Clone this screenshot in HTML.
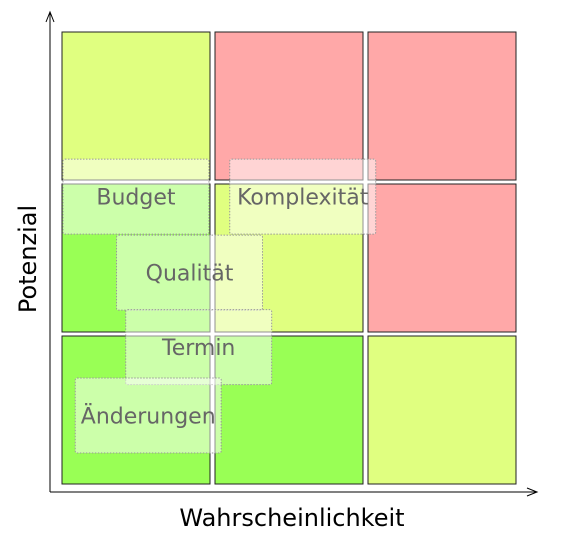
<!DOCTYPE html>
<html><head><meta charset="utf-8"><style>
body{margin:0;background:#fff;}
svg{display:block;font-family:"DejaVu Sans","Liberation Sans",sans-serif;}
</style></head><body>
<svg id="chart" width="564" height="540">
  <g id="cells"></g>
  <g id="boxes"></g>
  <g>
    <line x1="50" y1="492" x2="50" y2="12" stroke="#000" stroke-width="1"/>
    <polyline points="46,22 50,12 54,22" fill="none" stroke="#000"/>
    <line x1="50" y1="492" x2="537" y2="492" stroke="#000" stroke-width="1"/>
    <polyline points="527,488 537,492 527,496" fill="none" stroke="#000"/>
    <text x="292" y="526" text-anchor="middle" font-size="24">Wahrscheinlichkeit</text>
    <text transform="translate(36,259) rotate(-90)" text-anchor="middle" font-size="24">Potenzial</text>
  </g>
</svg>
<script>
// grid colors by row (top to bottom) and column (left to right)
const cellLevels = [
  ["yellow","red","red"],
  ["green","yellow","red"],
  ["green","green","yellow"]
];
const levelColors = {green:"#99ff55", yellow:"#e0ff80", red:"#ffa8a8"};
// risk items: label, probability (0-3), potential (0-3) as box centers
const itemLabels = ["Budget","Komplexität","Qualität","Termin","Änderungen"];
const itemProb = [0.49, 1.58, 0.84, 0.9, 0.57];
const itemPot = [1.91, 1.91, 1.41, 0.92, 0.47];

const x0 = 61, cw = 153, yBottom = 487, ch = 152;
function xScale(v){return x0 + v*cw;}
function yScale(v){return yBottom - v*ch;}
const NS = "http://www.w3.org/2000/svg";
const cells = document.getElementById("cells");
cellLevels.forEach((row, r) => {
  row.forEach((lvl, c) => {
    const rect = document.createElementNS(NS, "rect");
    rect.setAttribute("x", xScale(c)+1);
    rect.setAttribute("y", yScale(3-r)+1);
    rect.setAttribute("width", cw-5);
    rect.setAttribute("height", ch-4);
    rect.setAttribute("fill", levelColors[lvl]);
    rect.setAttribute("stroke", "#222");
    rect.setAttribute("stroke-width", "1");
    
    
    cells.appendChild(rect);
  });
});
const boxes = document.getElementById("boxes");
itemLabels.forEach((lab, i) => {
  const cx = xScale(itemProb[i]), cy = yScale(itemPot[i]);
  const g = document.createElementNS(NS, "g");
  
  
  const rect = document.createElementNS(NS, "rect");
  rect.setAttribute("x", cx-73);
  rect.setAttribute("y", cy-37.5);
  rect.setAttribute("width", 146);
  rect.setAttribute("height", 75);
  rect.setAttribute("fill", "rgba(255,255,255,0.5)");
  rect.setAttribute("stroke", "#999");
  rect.setAttribute("stroke-dasharray", "1.5,1.5");
  rect.setAttribute("rx", "2");
  
  
  g.appendChild(rect);
  const t = document.createElementNS(NS, "text");
  t.setAttribute("x", cx);
  t.setAttribute("y", cy+8);
  t.setAttribute("text-anchor", "middle");
  t.setAttribute("font-size", "22");
  t.setAttribute("fill", "#666");
  
  
  t.textContent = lab;
  g.appendChild(t);
  boxes.appendChild(g);
});
</script>
</body></html>
